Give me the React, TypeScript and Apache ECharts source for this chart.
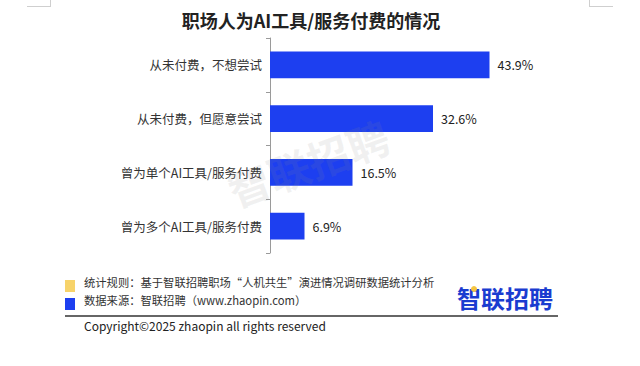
import React, { useEffect, useRef } from "react";
import * as echarts from "echarts";

const categories = [
  "从未付费，不想尝试",
  "从未付费，但愿意尝试",
  "曾为单个AI工具/服务付费",
  "曾为多个AI工具/服务付费",
];
const values = [43.9, 32.6, 16.5, 6.9];
const titleText = "职场人为AI工具/服务付费的情况";
const noteRule = "统计规则：基于智联招聘职场“人机共生”演进情况调研数据统计分析";
const noteSource = "数据来源：智联招聘（www.zhaopin.com）";
const copyright = "Copyright©2025 zhaopin all rights reserved";
const brand = "智联招聘";

const FONT = "'Noto Sans CJK SC', 'Noto Sans', sans-serif";
const BLUE = "#1d3ff0";

export default function App() {
  const ref = useRef<HTMLDivElement>(null);
  useEffect(() => {
    if (!ref.current) return;
    const chart = echarts.init(ref.current, null, { renderer: "svg" });
    chart.setOption({
      animation: false,
      backgroundColor: "#ffffff",
      textStyle: { fontFamily: FONT },
      grid: { left: 270, top: 38, width: 250, height: 215 },
      xAxis: {
        type: "value",
        min: 0,
        max: 50,
        show: false,
      },
      yAxis: {
        type: "category",
        data: categories,
        inverse: true,
        axisLine: { show: true, lineStyle: { color: "#9a9a9a", width: 1 } },
        axisTick: { show: true, length: 4, lineStyle: { color: "#9a9a9a" } },
        axisLabel: { color: "#333", fontSize: 12.5, margin: 8, fontFamily: FONT },
      },
      series: [
        {
          type: "bar",
          data: values,
          barWidth: "50%",
          itemStyle: { color: BLUE },
          label: {
            show: true,
            position: "right",
            distance: 8,
            color: "#222",
            fontSize: 12.5,
            fontFamily: FONT,
            formatter: (p: any) => p.value.toFixed(1) + "%",
          },
        },
      ],
      graphic: [
        {
          type: "text",
          x: 308,
          y: 162,
          rotation: 0.35,
          z: 100,
          silent: true,
          style: {
            text: brand,
            fontSize: 42,
            fontWeight: "bold",
            fontFamily: FONT,
            fill: "rgba(140,140,140,0.12)",
            align: "center",
            verticalAlign: "middle",
          },
        },
        {
          type: "text",
          x: 311,
          y: 20,
          style: {
            text: titleText,
            fontSize: 18,
            fontWeight: "bold",
            fontFamily: FONT,
            fill: "#222",
            align: "center",
            verticalAlign: "middle",
          },
        },
        { type: "line", shape: { x1: 27, y1: 6.5, x2: 50, y2: 6.5 }, style: { stroke: "#cfcfcf", lineWidth: 1 } },
        { type: "line", shape: { x1: 50.5, y1: 0, x2: 50.5, y2: 7 }, style: { stroke: "#cfcfcf", lineWidth: 1 } },
        { type: "line", shape: { x1: 590, y1: 6.5, x2: 613, y2: 6.5 }, style: { stroke: "#cfcfcf", lineWidth: 1 } },
        { type: "line", shape: { x1: 589.5, y1: 0, x2: 589.5, y2: 7 }, style: { stroke: "#cfcfcf", lineWidth: 1 } },
        { type: "rect", shape: { x: 65, y: 280, width: 10, height: 12 }, style: { fill: "#f7d36a" } },
        { type: "rect", shape: { x: 65, y: 298, width: 10, height: 12 }, style: { fill: BLUE } },
        {
          type: "text",
          x: 84,
          y: 281.5,
          style: { text: noteRule, fontSize: 11.3, fontFamily: FONT, fill: "#333", verticalAlign: "middle" },
        },
        {
          type: "text",
          x: 84,
          y: 299.5,
          style: { text: noteSource, fontSize: 11.3, fontFamily: FONT, fill: "#333", verticalAlign: "middle" },
        },
        {
          type: "text",
          x: 457,
          y: 297,
          style: {
            text: brand,
            fontSize: 24,
            fontWeight: "bold",
            fontFamily: FONT,
            fill: "#1a3cd0",
            verticalAlign: "middle",
          },
        },
        { type: "circle", shape: { cx: 474, cy: 289, r: 3 }, style: { fill: "#f5c542" } },
        { type: "line", shape: { x1: 65, y1: 316, x2: 558, y2: 316 }, style: { stroke: "#333", lineWidth: 1.5 } },
        {
          type: "text",
          x: 84,
          y: 325,
          style: { text: copyright, fontSize: 12, fontFamily: FONT, fill: "#222", verticalAlign: "middle" },
        },
      ],
    });
    return () => chart.dispose();
  }, []);
  return (
    <div
      ref={ref}
      style={{ position: "fixed", left: 0, top: 0, width: 640, height: 366 }}
    />
  );
}
